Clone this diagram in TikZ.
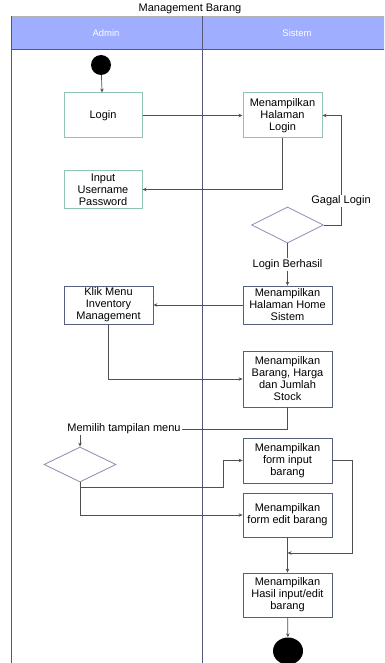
\documentclass[tikz,border=0pt]{standalone}
\usepackage{fontspec}
\setmainfont{Liberation Sans}
\usetikzlibrary{positioning,shapes.geometric,arrows.meta}

\definecolor{headfill}{HTML}{A0AEFF}
\definecolor{lanecol}{HTML}{55587A}
\definecolor{tealcol}{HTML}{8FC3B8}
\definecolor{boxcol}{HTML}{55607E}
\definecolor{deccol}{HTML}{8A8AAE}
\definecolor{linecol}{HTML}{505050}

\tikzset{
  actbox/.style={draw=boxcol,line width=0.8pt,fill=white,inner sep=0pt,align=center,
    font=\fontsize{11}{12}\selectfont},
  tealbox/.style={actbox,draw=tealcol,line width=1pt},
  decision/.style={diamond,draw=deccol,line width=0.8pt,inner sep=0pt,aspect=2},
  lbl/.style={fill=white,inner sep=1pt,font=\fontsize{11}{12}\selectfont},
  lanehead/.style={text=white,font=\fontsize{9.5}{11}\selectfont},
  flow/.style={draw=linecol,line width=0.7pt}
}

\begin{document}
\begin{tikzpicture}[x=1pt,y=-1pt,>={Stealth[length=4pt,width=3.5pt]}]
    \path[use as bounding box] (0,0) rectangle (384,663);
    \clip (0,0) rectangle (384,663);

    % swimlanes
    \fill[headfill] (11,16) rectangle (390,49);
    \draw[gray!60,line width=0.8pt] (11,16) -- (390,16);
    \draw[lanecol,line width=0.8pt] (11,49) -- (390,49);
    \draw[lanecol,line width=1pt] (11,16) -- (11,670);
    \draw[lanecol,line width=1pt] (202,16) -- (202,670);
    \node[font=\fontsize{11}{12}\selectfont] (title) at (190,9) {Management Barang};
    \node[lanehead] (h_admin)  at (106,33) {Admin};
    \node[lanehead] (h_sistem) at (297,33) {Sistem};

    % nodes
    \node[circle,fill=black,minimum size=20pt,inner sep=0pt] (start) at (101,65) {};
    \node[tealbox,minimum width=78pt,minimum height=45pt] (login)     at (103,115.5)   {Login};
    \node[tealbox,minimum width=79pt,minimum height=45pt] (hal_login) at (282.5,115.5) {Menampilkan\\Halaman\\Login};
    \node[tealbox,minimum width=78pt,minimum height=37pt] (input)     at (103,189.5)   {Input\\Username\\Password};
    \node[decision,minimum width=72pt,minimum height=36pt] (dec_1)    at (287.5,225)   {};
    \node[actbox,minimum width=89pt,minimum height=38pt] (home)  at (287.5,305) {Menampilkan\\Halaman Home\\Sistem};
    \node[actbox,minimum width=89pt,minimum height=38pt] (klik)  at (108.5,305) {Klik Menu\\Inventory\\Management};
    \node[actbox,minimum width=89pt,minimum height=56pt] (barang) [below=74pt of home.center,anchor=center] {Menampilkan\\Barang, Harga\\dan Jumlah\\Stock};
    \node[font=\fontsize{11}{12}\selectfont,inner sep=1pt] (l_memilih) at (124,429) {Memilih tampilan menu};
    \node[decision,minimum width=72pt,minimum height=35pt] (dec_2)    at (80,464.5) {};
    \node[actbox,minimum width=89pt,minimum height=45pt] (form_in) at (287.5,460.5) {Menampilkan\\form input\\barang};
    \node[actbox,minimum width=89pt,minimum height=44pt] (form_ed) at (287.5,515)   {Menampilkan\\form edit barang};
    \node[actbox,minimum width=89pt,minimum height=44pt] (hasil)   at (287.5,595)   {Menampilkan\\Hasil input/edit\\barang};
    \node[ellipse,fill=black,minimum width=30pt,minimum height=27pt,inner sep=0pt] (fin) at (288,651) {};

    \coordinate (c_gagal) at (341,225);
    \coordinate (c_fork)  at (223,487);
    \coordinate (c_side)  at (352,553);
    \coordinate (c_join)  at (287.5,553);

    % connectors
    \draw[flow,->] (start) -- (login);
    \draw[flow,->] (login) -- (hal_login);
    \draw[flow,->] (hal_login.south) |- (input.east);
    \draw[flow,->] (dec_1.east) -- (c_gagal) |- (hal_login.east);
    \node[lbl] (l_gagal) at (341,201) {Gagal Login};
    \draw[flow,->] (dec_1.south) -- node[lbl] (l_berhasil) {Login Berhasil} (home.north);
    \draw[flow,->] (home) -- (klik);
    \draw[flow,->] (klik.south) |- (barang.west);
    \draw[flow] (barang.south) |- (l_memilih.east);
    \draw[flow,->] (l_memilih.south -| dec_2.north) -- (dec_2.north);
    \draw[flow,->] (dec_2.south) |- (c_fork) |- (form_in.west);
    \draw[flow,->] (dec_2.south) |- (form_ed.west);
    \draw[flow,->] (form_in.east) -| (c_side) -- (c_join);
    \draw[flow,->] (form_ed) -- (hasil);
    \draw[flow,->] (hasil) -- (fin);
\end{tikzpicture}
\end{document}
